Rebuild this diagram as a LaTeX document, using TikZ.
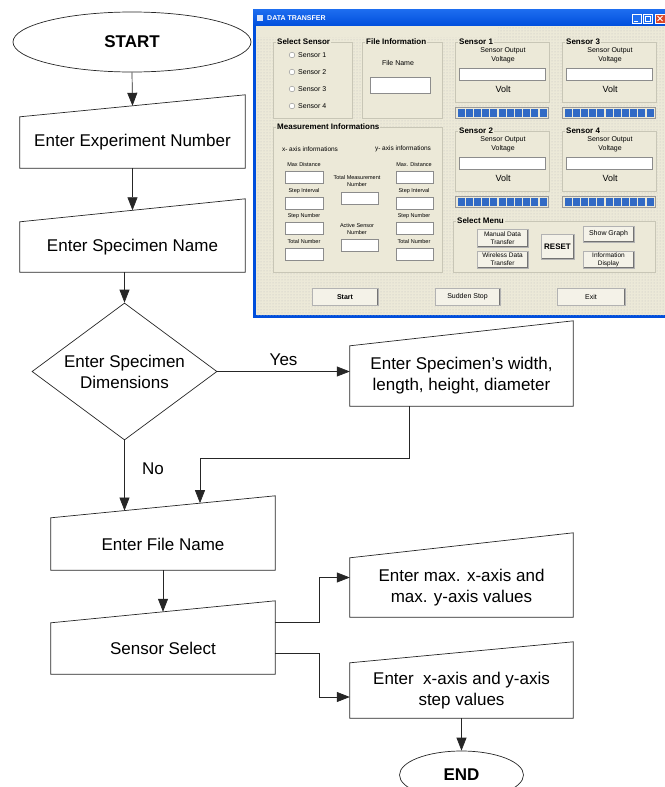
\documentclass[tikz,border=0pt]{standalone}
\usepackage{fontspec}
\setmainfont{Liberation Sans}
\usepackage{xcolor}
\usetikzlibrary{arrows.meta,positioning,calc,shapes.geometric,patterns}
\definecolor{xpface}{RGB}{236,233,216}
\definecolor{xpedge}{RGB}{200,198,182}
\definecolor{xpblue}{RGB}{0,78,220}
\definecolor{xptop}{RGB}{30,110,240}
\definecolor{xpbar}{RGB}{49,106,197}
\definecolor{xpred}{RGB}{220,70,40}

\newcommand\mansh[2]{%
  \coordinate (#1-tr) at ($(#1.north east)+(0,-#2)$);
  \coordinate (#1-in) at ($(#1.north)+(0,-#2/2)$);
  \draw[line] (#1.south west) -- (#1.south east) -- (#1-tr) -- (#1.north west) -- cycle;}

\begin{document}
\begin{tikzpicture}[x=1pt,y=-1pt,
  font=\fontsize{17}{21}\selectfont,
  line/.style={draw=black!85,line width=0.7pt},
  io/.style={minimum width=225pt,inner sep=0pt,align=center},
  term/.style={ellipse,line,inner sep=0pt,font=\fontsize{17}{21}\selectfont\bfseries},
  dec/.style={diamond,line,inner sep=0pt,aspect=1.35,align=center},
  arr/.style={line,-{Triangle[length=13pt,width=10pt]}},
  grp/.style={draw=xpedge,fill=xpface},
  glab/.style={fill=xpface,inner sep=1pt,anchor=west,font=\fontsize{8}{9}\selectfont\bfseries},
  gtxt/.style={inner sep=0pt,align=center,font=\fontsize{7}{9}\selectfont},
  gsml/.style={inner sep=0pt,align=center,font=\fontsize{6.5}{8}\selectfont},
  gtiny/.style={inner sep=0pt,align=center,font=\fontsize{5.5}{7}\selectfont},
  tbox/.style={fill=white,draw=black!45},
  pbar/.style={fill=xpface,draw=black!40},
  gbtn/.style={fill=xpface!60!white,draw=black!30,inner sep=0pt,align=center,font=\fontsize{6.5}{8}\selectfont,
    path picture={\draw[black!55,line width=1.4pt] (path picture bounding box.south west) -- (path picture bounding box.south east) -- (path picture bounding box.north east);}}]
\useasboundingbox (0,0) rectangle (664,787);

\node[term,minimum width=238pt,minimum height=60pt] (start) at (132,42) {START};
\node[io,minimum height=51pt] (expno) at (132.5,142.5) {Enter Experiment Number};
\mansh{expno}{22}
\node[io,minimum height=50pt] (spname) at (132.5,247) {Enter Specimen Name};
\mansh{spname}{23}
\node[dec,minimum width=185pt,minimum height=137pt] (dims) at (124.5,371.5) {Enter Specimen\\Dimensions};
\node[io,minimum width=223pt,minimum height=60pt] (spdim) at (461.5,376) {Enter Specimen’s width,\\length, height, diameter};
\mansh{spdim}{25}
\node[io,minimum width=224pt,minimum height=52pt] (fname) at (163,544) {Enter File Name};
\mansh{fname}{22}
\node[io,minimum width=224pt,minimum height=51pt] (ssel) at (163,648.5) {Sensor Select};
\mansh{ssel}{22}
\node[io,minimum width=223pt,minimum height=59pt] (maxv) at (461.5,587.5) {Enter max. x-axis and\\max. y-axis values};
\mansh{maxv}{25}
\node[io,minimum width=223pt,minimum height=55pt] (stepv) at (461.5,690.5) {Enter\ \ x-axis and y-axis\\step values};
\mansh{stepv}{21}
\node[term,minimum width=124pt,minimum height=48pt] (finish) at (461.5,775) {END};

\coordinate (fname-l) at ($(fname.north west)!0.328!(fname-tr)$);
\coordinate (fname-r) at ($(fname.north west)!0.665!(fname-tr)$);
\coordinate (join) at (200,458);

\draw[arr] (start.south) -- (expno-in);
\draw[arr] (expno.south) -- (spname-in);
\draw[arr] (spname.south -| dims.north) -- (dims.north);
\draw[arr] (dims.east) -- (dims.east -| spdim.west) node[midway,above=2pt] (yes) {Yes};
\draw[arr] ($(spdim.south)+(-52.5,0)$) |- (join) -- (join |- fname-r);
\draw[arr] (dims.south) -- (dims.south |- fname-l) node[pos=0.4,right=14pt] (no) {No};
\draw[arr] (fname.south) -- (ssel-in);
\draw[arr] (ssel.north east) -- ++(44,0) |- ($(maxv.west)+(0,-10)$);
\draw[arr] ($(ssel.east)+(0,5)$) -- ++(44,0) |- ($(stepv.west)+(0,6.5)$);
\draw[arr] (stepv.south) -- (finish.north);

\fill[xpblue] (253,9) rectangle (670,318);
\fill[top color=xptop,bottom color=xpblue] (253,9) rectangle (670,26);
\fill[xpface] (256,26) rectangle (670,315);
\fill[pattern=dots,pattern color=black!25] (256,37) rectangle (670,315);
\fill[pattern=dots,pattern color=black!25] (498,26) rectangle (670,37);
\fill[white!85!xpblue] (257,15) rectangle (263,21);
\node[anchor=west,inner sep=0pt,text=white,font=\fontsize{7}{8}\selectfont\bfseries] (ttl) at (267,18) {DATA TRANSFER};
\foreach \bx in {632,643}
  \draw[fill=xptop,draw=white] (\bx,14) rectangle ++(9,9);
\draw[fill=xpred,draw=white] (655,14) rectangle ++(10,9);
\draw[white,line width=1pt] (657.5,16) -- (662.5,21) (657.5,21) -- (662.5,16);
\draw[white,line width=1pt] (634,21) -- (638,21);
\draw[white,line width=0.8pt] (645,16) rectangle (650,21);

\draw[grp] (273,42) rectangle (352,118);
\node[glab] (gsel) at (276,42) {Select Sensor};
\foreach \i in {1,...,4} {
  \draw[fill=white,draw=black!45] (292,38+17*\i) circle (2.8pt);
  \node[gtxt,anchor=west] (rb\i) at (298,38+17*\i) {Sensor \i};
}
\draw[grp] (362,42) rectangle (442,118);
\node[glab] (gfile) at (365,42) {File Information};
\node[gtxt] (fnlab) at (398,63) {File Name};
\draw[tbox] (370,77) rectangle (430,93);

\draw[grp] (273,127) rectangle (442,272);
\node[glab] (gmeas) at (276,127) {Measurement Informations};
\node[gsml] (xinf) at (310,149) {x- axis informations};
\node[gsml] (yinf) at (403,149) {y- axis informations};
\foreach \ly/\la/\lb [count=\k] in {165/Max Distance/Max. Distance,191/Step Interval/Step Interval,216/Step Number/Step Number,242/Total Number/Total Number} {
  \node[gtiny] (xl\k) at (304,\ly) {\la};
  \node[gtiny] (yl\k) at (414,\ly) {\lb};
  \draw[tbox] (285,\ly+6) rectangle (323,\ly+18);
  \draw[tbox] (396,\ly+6) rectangle (433,\ly+18);
}
\node[gtiny] (tmn) at (357,181) {Total Measurement\\Number};
\draw[tbox] (341,192) rectangle (378,204);
\node[gtiny] (asn) at (357,229) {Active Sensor\\Number};
\draw[tbox] (341,239) rectangle (378,251);

\foreach \dx/\dy/\n in {0/0/1,107/0/3,0/89/2,107/89/4} {
  \begin{scope}[shift={(\dx,\dy)}]
  \draw[grp] (455,42) rectangle (549,102);
  \node[glab] (gs\n) at (458,42) {Sensor \n};
  \node[gtxt] (so\n) at (503,55.5) {Sensor Output\\Voltage};
  \draw[tbox] (459,68) rectangle (545,80);
  \node[gtxt,font=\fontsize{9}{10}\selectfont] (volt\n) at (503,89) {Volt};
  \draw[pbar] (455,107) rectangle (548,118);
  \foreach \b in {0,...,10}
    \fill[xpbar] (457.5+8.2*\b,108.5) rectangle ++(7,8);
  \end{scope}
}

\draw[grp] (453,221) rectangle (655,272);
\node[glab] (gmenu) at (456,221) {Select Menu};
\node[gbtn,minimum width=51pt,minimum height=18pt] (bman) at (502.5,238) {Manual Data\\Transfer};
\node[gbtn,minimum width=51pt,minimum height=17pt] (bwls) at (502.5,259.5) {Wireless Data\\Transfer};
\node[gbtn,minimum width=33pt,minimum height=25pt,font=\fontsize{8}{9}\selectfont\bfseries] (brst) at (557.5,246.5) {RESET};
\node[gbtn,minimum width=51pt,minimum height=16pt,font=\fontsize{7}{8}\selectfont] (bgraph) at (608.5,234) {Show Graph};
\node[gbtn,minimum width=51pt,minimum height=17pt] (binfo) at (608.5,259.5) {Information\\Display};
\node[gbtn,minimum width=66pt,minimum height=17pt,font=\fontsize{7}{8}\selectfont\bfseries] (bstart) at (345,297) {Start};
\node[gbtn,minimum width=65pt,minimum height=17pt,font=\fontsize{7}{8}\selectfont] (bstop) at (467.5,297) {Sudden Stop};
\node[gbtn,minimum width=68pt,minimum height=17pt,font=\fontsize{7}{8}\selectfont] (bexit) at (591,297) {Exit};
\end{tikzpicture}
\end{document}
